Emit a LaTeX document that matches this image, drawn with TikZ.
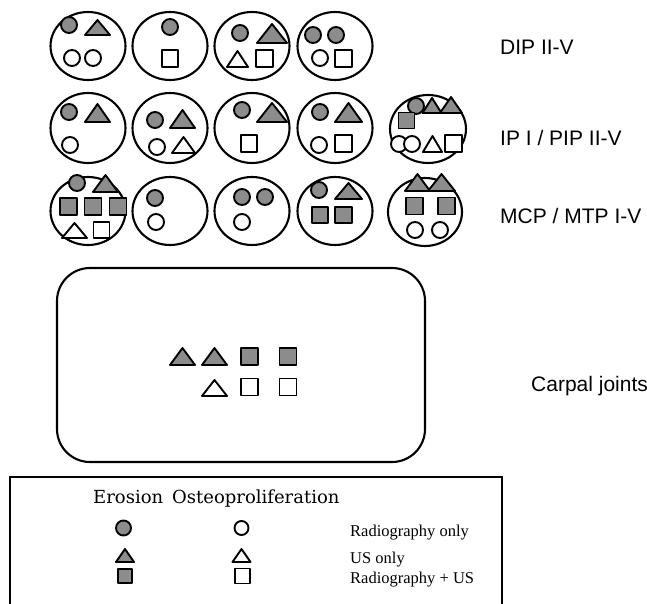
\documentclass[tikz,border=0pt]{standalone}
\usepackage{fontspec}
\setmainfont{Liberation Serif}
\newfontfamily\labelfont{Liberation Sans}
\newfontfamily\headfont{DejaVu Serif}
\definecolor{erofill}{RGB}{140,140,140}
\tikzset{
  joint/.style={draw=black, line width=2.1pt},
  ero/.style={draw=black, fill=erofill, line width=1.9pt, line join=round},
  ost/.style={draw=black, fill=white, line width=1.9pt, line join=round},
  rowlabel/.style={font=\labelfont\fontsize{21}{25}\selectfont, anchor=base west, inner sep=0pt},
  headlabel/.style={font=\headfont\fontsize{18}{22}\selectfont, anchor=base west, inner sep=0pt},
  keylabel/.style={font=\fontsize{16.5}{20}\selectfont, anchor=base west, inner sep=0pt},
}
% circle: style, centre x, centre y, radius
\newcommand\dotsym[4]{\path[#1] (#2,#3) circle[radius=#4];}
% triangle: style, centre x, base y, width, height
\newcommand\trisym[5]{\path[#1] (#2,#3) ++(-#4/2,0) -- ++(#4,0) -- ++(-#4/2,-#5) -- cycle;}
% square: style, centre x, centre y, side
\newcommand\sqsym[4]{\path[#1] (#2,#3) ++(-#4/2,-#4/2) rectangle ++(#4,#4);}
\begin{document}
\begin{tikzpicture}[x={(1pt,0)}, y={(0,-1pt)}]
\useasboundingbox (0,0) rectangle (647,604);

% ---------- DIP II-V ----------
\draw[joint] (88,46) ellipse[x radius=37.5, y radius=34];
\dotsym{ero}{69}{25}{8}
\trisym{ero}{97.5}{35}{25}{15}
\dotsym{ost}{72}{58}{8}
\dotsym{ost}{93}{58}{8}

\draw[joint] (170,46) ellipse[x radius=37.5, y radius=34];
\dotsym{ero}{170}{27}{8}
\sqsym{ost}{170}{58.5}{16.5}

\draw[joint] (252,46) ellipse[x radius=37.5, y radius=34];
\dotsym{ero}{240}{33}{8}
\trisym{ero}{272}{43}{30}{19}
\trisym{ost}{237.5}{67}{21}{16}
\sqsym{ost}{264.5}{58.5}{16.5}

\draw[joint] (335,46) ellipse[x radius=37.5, y radius=34];
\dotsym{ero}{313}{35}{8}
\dotsym{ero}{336}{35}{8}
\dotsym{ost}{320}{58}{8}
\sqsym{ost}{343.5}{58.5}{16.5}

\node[rowlabel] (dip) at (500,55) {DIP II-V};

% ---------- IP I / PIP II-V ----------
\draw[joint] (88,128) ellipse[x radius=37.5, y radius=35];
\dotsym{ero}{69}{112}{8}
\trisym{ero}{97.5}{122}{25}{18}
\dotsym{ost}{70}{145}{8}

\draw[joint] (170,128) ellipse[x radius=37.5, y radius=35];
\dotsym{ero}{155}{120}{8}
\trisym{ero}{182.5}{128}{25}{18}
\dotsym{ost}{157}{147}{8}
\trisym{ost}{183.5}{153}{23}{16}

\draw[joint] (252,128) ellipse[x radius=37.5, y radius=35];
\dotsym{ero}{242}{110}{8}
\trisym{ero}{272}{122}{30}{19}
\sqsym{ost}{249}{143.5}{16.5}

\draw[joint] (335,128) ellipse[x radius=37.5, y radius=35];
\dotsym{ero}{320}{112}{8}
\trisym{ero}{348.5}{122}{27}{19}
\dotsym{ost}{319}{145}{8}
\sqsym{ost}{343.5}{143.5}{16.5}

\draw[joint] (428,129) ellipse[x radius=38, y radius=34];
\trisym{ero}{451}{113}{22}{16}
\trisym{ero}{432}{113}{19}{15}
\dotsym{ero}{416}{106}{8}
\sqsym{ero}{406.5}{120.5}{16}
\dotsym{ost}{399}{144}{8}
\dotsym{ost}{412}{144}{8}
\trisym{ost}{432.5}{152}{19}{16}
\sqsym{ost}{453.5}{143.5}{16.5}

\node[rowlabel] (pip) at (500,146) {IP I / PIP II-V};

% ---------- MCP / MTP I-V ----------
\draw[joint] (88,211) ellipse[x radius=37.5, y radius=34];
\dotsym{ero}{77}{183}{8}
\trisym{ero}{105.5}{192}{25}{17}
\sqsym{ero}{68.5}{206.5}{17}
\sqsym{ero}{93}{206.5}{17}
\sqsym{ero}{118}{206.5}{17}
\trisym{ost}{74.5}{238}{25}{15}
\sqsym{ost}{101.5}{230}{16}

\draw[joint] (170,211) ellipse[x radius=37.5, y radius=34];
\dotsym{ero}{155}{198}{8}
\dotsym{ost}{156}{222}{8}

\draw[joint] (252,211) ellipse[x radius=37.5, y radius=34];
\dotsym{ero}{242}{197}{8}
\dotsym{ero}{265}{197}{8}
\dotsym{ost}{242}{222}{8}

\draw[joint] (335,211) ellipse[x radius=37.5, y radius=34];
\dotsym{ero}{319}{190}{8}
\trisym{ero}{348.5}{199}{27}{16}
\sqsym{ero}{320}{215}{16.5}
\sqsym{ero}{343.5}{215}{16.5}

\draw[joint] (425,212) ellipse[x radius=37, y radius=34];
\trisym{ero}{417.5}{191}{25}{17}
\trisym{ero}{441.5}{191}{27}{17}
\sqsym{ero}{414.5}{206}{17}
\sqsym{ero}{446.5}{206}{17}
\dotsym{ost}{415}{230}{8}
\dotsym{ost}{440}{230}{8}

\node[rowlabel] (mcp) at (500,223) {MCP / MTP I-V};

% ---------- Carpal joints ----------
\draw[joint, rounded corners=33pt] (57,268) rectangle (425,462);
\trisym{ero}{182.5}{365}{25}{17}
\trisym{ero}{214.5}{365}{25}{17}
\sqsym{ero}{249.5}{356.5}{17}
\sqsym{ero}{288}{356.5}{17}
\trisym{ost}{214.5}{396}{25}{16}
\sqsym{ost}{249.5}{387}{17}
\sqsym{ost}{288}{387}{17}

\node[rowlabel] (carpal) at (531,391) {Carpal joints};

% ---------- Key ----------
\draw[line width=1.8pt] (10,606) -- (10,477) -- (502,477) -- (502,606);
\node[headlabel] (head) at (93,503) {Erosion\enspace Osteoproliferation};

\dotsym{ero}{123.5}{528}{7.5}
\trisym{ero}{125}{562}{18}{13}
\sqsym{ero}{125}{576}{14.5}
\dotsym{ost}{241.5}{528}{7}
\trisym{ost}{241.5}{562}{18}{13}
\sqsym{ost}{242.5}{576}{15}

\node[keylabel] (kr) at (350,536) {Radiography only};
\node[keylabel] (ku) at (350,563) {US only};
\node[keylabel] (kb) at (350,583) {Radiography + US};
\end{tikzpicture}
\end{document}
